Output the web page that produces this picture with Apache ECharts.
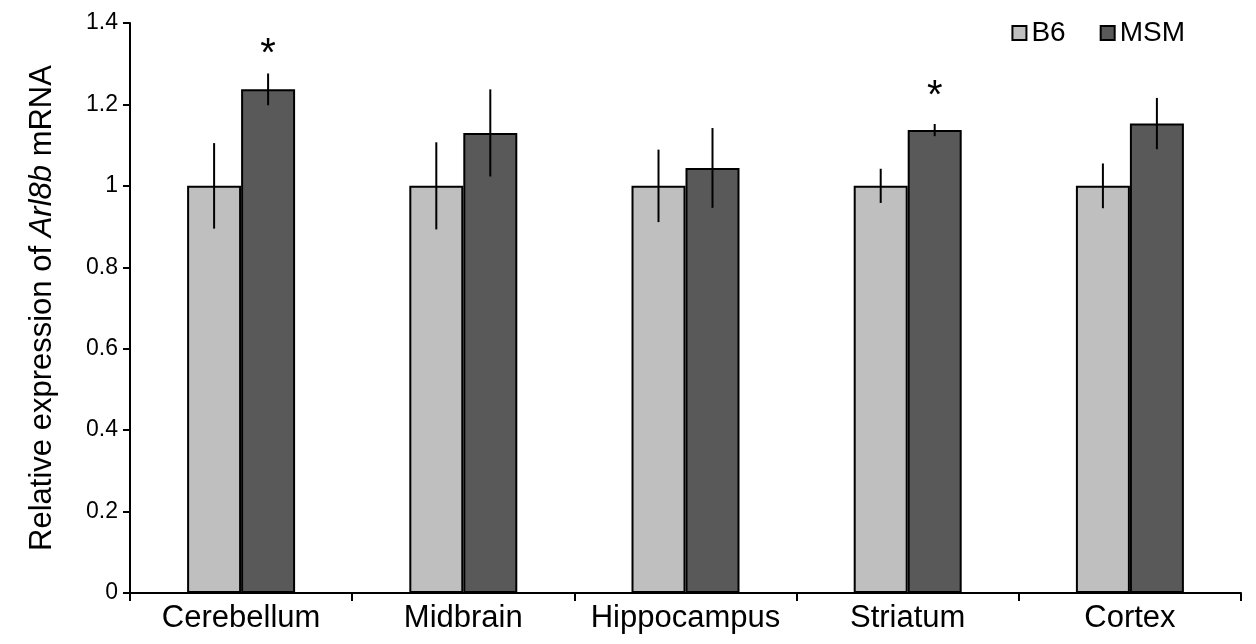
<!DOCTYPE html>
<html>
<head>
<meta charset="utf-8">
<script src="https://cdn.jsdelivr.net/npm/echarts@6/dist/echarts.min.js"></script>
<style>
  html, body { margin: 0; padding: 0; background: #fff; }
  #chart { width: 1256px; height: 644px; }
</style>
</head>
<body>
<div id="chart"></div>
<script>
// Brain regions
const regions = ['Cerebellum', 'Midbrain', 'Hippocampus', 'Striatum', 'Cortex'];
// Mean relative expression
const b6Values = [1, 1, 1, 1, 1];
const msmValues = [1.237, 1.13, 1.044, 1.137, 1.153];
// Error (+/-)
const b6Errors = [0.105, 0.107, 0.089, 0.042, 0.055];
const msmErrors = [0.039, 0.107, 0.098, 0.015, 0.063];
// Significance markers (value at which the asterisk sits above MSM)
const msmStars = [1.322, null, null, 1.218, null];
const yTicks = { min: 0, max: 1.4, interval: 0.2 };

const FONT = 'Liberation Sans, Arial, sans-serif';
const BAR_FRAC = 0.243;

const chart = echarts.init(document.getElementById('chart'));

function errorSeries(name, means, errs, side) {
  return {
    type: 'custom',
    name: name + ' error',
    z: 5,
    silent: true,
    data: means.map((m, i) => [i, m - errs[i], m + errs[i]]),
    renderItem: function (params, api) {
      const band = api.size([1, 0])[0];
      const off = side * band * BAR_FRAC / 2;
      const lo = api.coord([api.value(0), api.value(1)]);
      const hi = api.coord([api.value(0), api.value(2)]);
      return {
        type: 'line',
        shape: { x1: lo[0] + off, y1: lo[1], x2: hi[0] + off, y2: hi[1] },
        style: { stroke: '#000', lineWidth: 2 }
      };
    }
  };
}

chart.setOption({
  animation: false,
  backgroundColor: '#fff',
  grid: { left: 130, right: 15, top: 23, bottom: 51 },
  legend: {
    data: ['B6', 'MSM'],
    right: 66,
    top: 14,
    itemWidth: 14,
    itemHeight: 14,
    itemGap: 34,
    icon: 'rect',
    textStyle: { fontFamily: FONT, fontSize: 28, color: '#000' }
  },
  xAxis: {
    type: 'category',
    data: regions,
    axisLine: { lineStyle: { color: '#000', width: 2 } },
    axisTick: { show: true, interval: 0, length: 8, lineStyle: { color: '#000', width: 2 } },
    axisLabel: { interval: 0, fontFamily: FONT, fontSize: 31, color: '#000', margin: 10 }
  },
  yAxis: {
    type: 'value',
    min: yTicks.min,
    max: yTicks.max,
    interval: yTicks.interval,
    splitLine: { show: false },
    axisLine: { show: true, lineStyle: { color: '#000', width: 2 } },
    axisTick: { show: true, length: 7, lineStyle: { color: '#000', width: 2 } },
    axisLabel: { fontFamily: FONT, fontSize: 23, color: '#000', margin: 12 },
    name: '{a|Relative expression of }{b|Arl8b}{a| mRNA}',
    nameLocation: 'middle',
    nameGap: 72,
    nameTextStyle: {
      rich: {
        a: { fontFamily: FONT, fontSize: 31, color: '#000' },
        b: { fontFamily: FONT, fontSize: 31, color: '#000', fontStyle: 'italic' }
      }
    }
  },
  series: [
    {
      name: 'B6',
      type: 'bar',
      data: b6Values,
      barWidth: (BAR_FRAC * 100) + '%',
      barGap: '0%',
      itemStyle: { color: '#bfbfbf', borderColor: '#000', borderWidth: 2 }
    },
    {
      name: 'MSM',
      type: 'bar',
      data: msmValues,
      barWidth: (BAR_FRAC * 100) + '%',
      barGap: '0%',
      itemStyle: { color: '#595959', borderColor: '#000', borderWidth: 2 }
    },
    errorSeries('B6', b6Values, b6Errors, -1),
    errorSeries('MSM', msmValues, msmErrors, 1),
    {
      type: 'custom',
      name: 'significance',
      z: 6,
      silent: true,
      data: msmStars.map((v, i) => [i, v]).filter(d => d[1] != null),
      renderItem: function (params, api) {
        const band = api.size([1, 0])[0];
        const p = api.coord([api.value(0), api.value(1)]);
        return {
          type: 'text',
          x: p[0] + band * BAR_FRAC / 2,
          y: p[1],
          style: {
            text: '*',
            fontFamily: FONT,
            fontSize: 40,
            fill: '#000',
            align: 'center',
            verticalAlign: 'middle'
          }
        };
      }
    }
  ]
});
</script>
</body>
</html>
